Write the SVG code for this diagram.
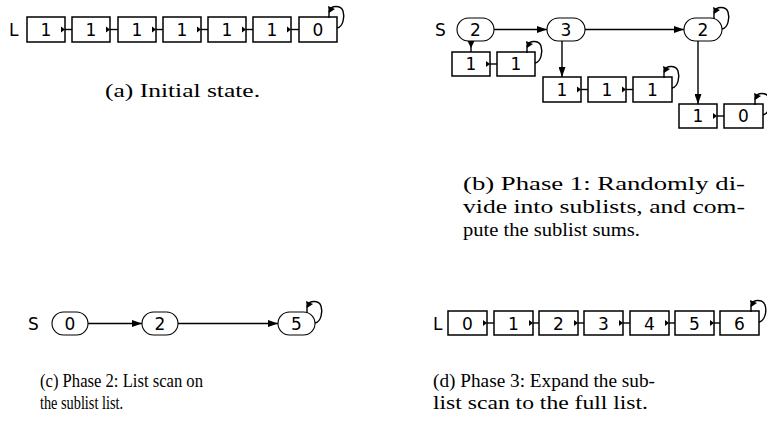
<svg xmlns="http://www.w3.org/2000/svg" xmlns:xlink="http://www.w3.org/1999/xlink" width="767" height="424" viewBox="0 0 767 424">
<style>
.box{fill:#fff;stroke:#000;stroke-width:1.5}
.nd{fill:#fff;stroke:#000;stroke-width:1.1}
.t{font-family:"DejaVu Sans",sans-serif;font-size:17px;text-anchor:middle;fill:#000}
.lab{font-family:"DejaVu Sans",sans-serif;font-size:17px;fill:#000}
.e{stroke:#000;stroke-width:1.4;fill:none}
.cap{font-family:"Liberation Serif","DejaVu Serif",serif;font-size:19px;fill:#000}
.cap2{font-family:"Liberation Serif","DejaVu Serif",serif;font-size:19px;fill:#000}
</style>
<defs>
<marker id="ah" markerUnits="userSpaceOnUse" markerWidth="10" markerHeight="7" refX="10" refY="3.5" orient="auto"><path d="M0,0 L10,3.5 L0,7 z" fill="#000"/></marker>
<polygon id="w" points="-4,-3 0,0 -4,3" fill="#000"/>
<g id="loop"><path d="M-8,1 L-8,-6 C-6,-12 4,-12 6,-6 C8,0 6,10 0,11" class="e"/><polygon points="-9,-11 -2,-8 -8,-4" fill="#000"/></g>
</defs>

<!-- (a) -->
<g id="a-label"><text class="lab" x="9" y="36">L</text></g>
<g id="a1"><rect class="box" x="27" y="17" width="38" height="25"/><text class="t" x="46" y="36">1</text></g>
<g id="a2"><rect class="box" x="72" y="17" width="38" height="25"/><text class="t" x="91" y="36">1</text></g>
<g id="a3"><rect class="box" x="118" y="17" width="38" height="25"/><text class="t" x="137" y="36">1</text></g>
<g id="a4"><rect class="box" x="163" y="17" width="38" height="25"/><text class="t" x="182" y="36">1</text></g>
<g id="a5"><rect class="box" x="208" y="17" width="38" height="25"/><text class="t" x="227" y="36">1</text></g>
<g id="a6"><rect class="box" x="253" y="17" width="38" height="25"/><text class="t" x="272" y="36">1</text></g>
<g id="a7"><rect class="box" x="299" y="17" width="38" height="25"/><text class="t" x="318" y="36">0</text></g>
<g id="a-edges">
<line class="e" x1="65" y1="29.5" x2="72" y2="29.5"/><use xlink:href="#w" x="65" y="29.5"/>
<line class="e" x1="110" y1="29.5" x2="118" y2="29.5"/><use xlink:href="#w" x="110" y="29.5"/>
<line class="e" x1="156" y1="29.5" x2="163" y2="29.5"/><use xlink:href="#w" x="156" y="29.5"/>
<line class="e" x1="201" y1="29.5" x2="208" y2="29.5"/><use xlink:href="#w" x="201" y="29.5"/>
<line class="e" x1="246" y1="29.5" x2="253" y2="29.5"/><use xlink:href="#w" x="246" y="29.5"/>
<line class="e" x1="291" y1="29.5" x2="299" y2="29.5"/><use xlink:href="#w" x="291" y="29.5"/>
<use xlink:href="#loop" x="337" y="17"/>
</g>
<text class="cap" x="105" y="97" textLength="155" lengthAdjust="spacingAndGlyphs">(a) Initial state.</text>

<!-- (b) -->
<g id="b-label"><text class="lab" x="435" y="35.5">S</text></g>
<g id="bs1"><rect class="nd" x="457" y="18" width="37" height="23" rx="11.5"/><text class="t" x="475.5" y="35.5">2</text></g>
<g id="bs2"><rect class="nd" x="547" y="18" width="38" height="23" rx="11.5"/><text class="t" x="566" y="35.5">3</text></g>
<g id="bs3"><rect class="nd" x="684" y="18" width="38" height="23" rx="11.5"/><text class="t" x="703" y="35.5">2</text></g>
<g id="b11"><rect class="box" x="452" y="52" width="38" height="24"/><text class="t" x="471" y="70">1</text></g>
<g id="b12"><rect class="box" x="497" y="52" width="38" height="24"/><text class="t" x="516" y="70">1</text></g>
<g id="b21"><rect class="box" x="543" y="77" width="38" height="25"/><text class="t" x="562" y="95.5">1</text></g>
<g id="b22"><rect class="box" x="588" y="77" width="38" height="25"/><text class="t" x="607" y="95.5">1</text></g>
<g id="b23"><rect class="box" x="633" y="77" width="39" height="25"/><text class="t" x="652.5" y="95.5">1</text></g>
<g id="b31"><rect class="box" x="679" y="104" width="38" height="24"/><text class="t" x="698" y="122">1</text></g>
<g id="b32"><rect class="box" x="724" y="104" width="39" height="24"/><text class="t" x="743.5" y="122">0</text></g>
<g id="b-edges">
<line class="e" x1="494" y1="29.5" x2="547" y2="29.5" marker-end="url(#ah)"/>
<line class="e" x1="585" y1="29.5" x2="684" y2="29.5" marker-end="url(#ah)"/>
<use xlink:href="#loop" x="722" y="18"/>
<line class="e" x1="471" y1="41" x2="471" y2="52"/><polygon points="467.5,41 474.5,41 471,48" fill="#000"/>
<line class="e" x1="562" y1="41" x2="562" y2="77" marker-end="url(#ah)"/>
<line class="e" x1="698" y1="41" x2="698" y2="104" marker-end="url(#ah)"/>
<line class="e" x1="490" y1="64" x2="497" y2="64"/><use xlink:href="#w" x="490" y="64"/>
<use xlink:href="#loop" x="535" y="52"/>
<line class="e" x1="581" y1="89.5" x2="588" y2="89.5"/><use xlink:href="#w" x="581" y="89.5"/>
<line class="e" x1="626" y1="89.5" x2="633" y2="89.5"/><use xlink:href="#w" x="626" y="89.5"/>
<use xlink:href="#loop" x="672" y="77"/>
<line class="e" x1="717" y1="116" x2="724" y2="116"/><use xlink:href="#w" x="717" y="116"/>
<use xlink:href="#loop" x="763" y="104"/>
</g>
<text class="cap" x="463" y="190" textLength="282" lengthAdjust="spacingAndGlyphs">(b) Phase 1:  Randomly di-</text>
<text class="cap" x="463" y="213" textLength="282" lengthAdjust="spacingAndGlyphs">vide into sublists, and com-</text>
<text class="cap" x="463" y="236" textLength="177" lengthAdjust="spacingAndGlyphs">pute the sublist sums.</text>

<!-- (c) -->
<g id="c-label"><text class="lab" x="28" y="329.5">S</text></g>
<g id="c1"><rect class="nd" x="52" y="312" width="36" height="23" rx="11.5"/><text class="t" x="70" y="329.5">0</text></g>
<g id="c2"><rect class="nd" x="142" y="312" width="36" height="23" rx="11.5"/><text class="t" x="160" y="329.5">2</text></g>
<g id="c3"><rect class="nd" x="278" y="312" width="37" height="23" rx="11.5"/><text class="t" x="296.5" y="329.5">5</text></g>
<g id="c-edges">
<line class="e" x1="88" y1="323.5" x2="142" y2="323.5" marker-end="url(#ah)"/>
<line class="e" x1="178" y1="323.5" x2="278" y2="323.5" marker-end="url(#ah)"/>
<use xlink:href="#loop" x="315" y="312"/>
</g>
<text class="cap2" x="40" y="387" textLength="163" lengthAdjust="spacingAndGlyphs">(c) Phase 2:  List scan on</text>
<text class="cap2" x="40" y="409" textLength="83" lengthAdjust="spacingAndGlyphs">the sublist list.</text>

<!-- (d) -->
<g id="d-label"><text class="lab" x="433" y="329.5">L</text></g>
<g id="d1"><rect class="box" x="448" y="311" width="39" height="24"/><text class="t" x="467.5" y="329.5">0</text></g>
<g id="d2"><rect class="box" x="494" y="311" width="39" height="24"/><text class="t" x="513.5" y="329.5">1</text></g>
<g id="d3"><rect class="box" x="539" y="311" width="39" height="24"/><text class="t" x="558.5" y="329.5">2</text></g>
<g id="d4"><rect class="box" x="584" y="311" width="39" height="24"/><text class="t" x="603.5" y="329.5">3</text></g>
<g id="d5"><rect class="box" x="630" y="311" width="39" height="24"/><text class="t" x="649.5" y="329.5">4</text></g>
<g id="d6"><rect class="box" x="675" y="311" width="39" height="24"/><text class="t" x="694.5" y="329.5">5</text></g>
<g id="d7"><rect class="box" x="720" y="311" width="39" height="24"/><text class="t" x="739.5" y="329.5">6</text></g>
<g id="d-edges">
<line class="e" x1="487" y1="323" x2="494" y2="323"/><use xlink:href="#w" x="487" y="323"/>
<line class="e" x1="533" y1="323" x2="539" y2="323"/><use xlink:href="#w" x="533" y="323"/>
<line class="e" x1="578" y1="323" x2="584" y2="323"/><use xlink:href="#w" x="578" y="323"/>
<line class="e" x1="623" y1="323" x2="630" y2="323"/><use xlink:href="#w" x="623" y="323"/>
<line class="e" x1="669" y1="323" x2="675" y2="323"/><use xlink:href="#w" x="669" y="323"/>
<line class="e" x1="714" y1="323" x2="720" y2="323"/><use xlink:href="#w" x="714" y="323"/>
<use xlink:href="#loop" x="759" y="311"/>
</g>
<text class="cap2" x="433" y="387" textLength="222" lengthAdjust="spacingAndGlyphs">(d) Phase 3: Expand the sub-</text>
<text class="cap2" x="433" y="409" textLength="215" lengthAdjust="spacingAndGlyphs">list scan to the full list.</text>
</svg>
